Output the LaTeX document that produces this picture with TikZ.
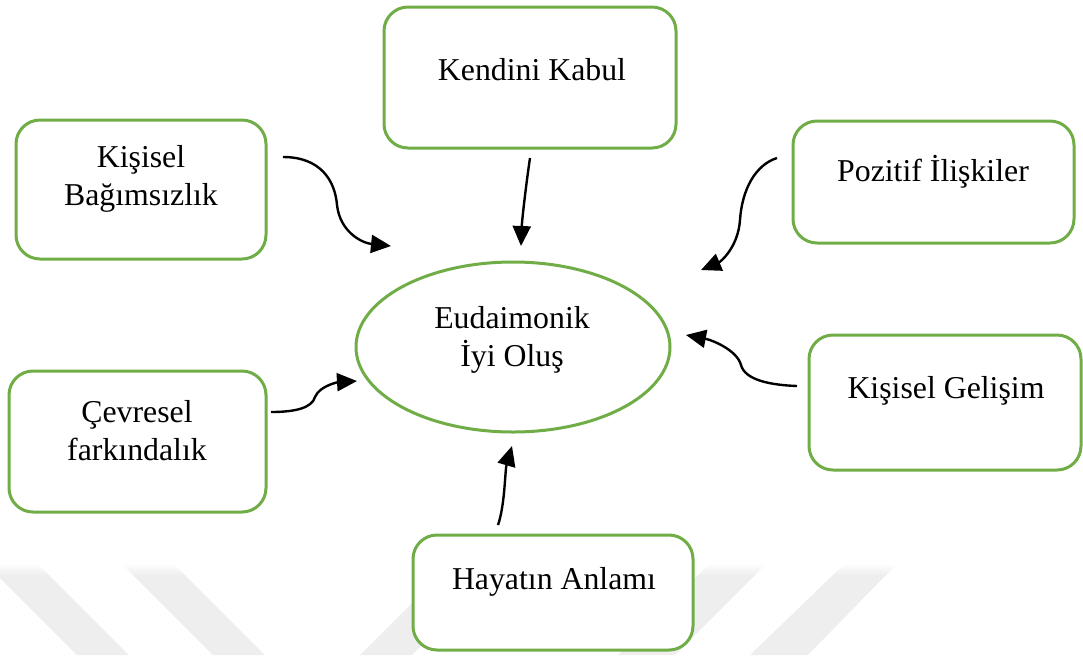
\documentclass[tikz,border=0pt]{standalone}
\usepackage{fontspec}
\setmainfont{Liberation Serif}
\usetikzlibrary{arrows.meta,shapes.geometric}
\definecolor{boxgreen}{HTML}{70AD47}
\definecolor{wm}{HTML}{EEEEEE}
\tikzset{
  box/.style={draw=boxgreen, line width=1.5pt, rounded corners=12pt, fill=white, inner sep=0pt},
  lbl/.style={font=\fontsize{15.9}{19}\selectfont, align=center, inner sep=0pt},
  conn/.style={line width=1.2pt, -{Triangle[length=10pt,width=9pt]}},
  wmark/.style={fill=wm, draw=none},
  wfade/.style={top color=white, bottom color=wm, draw=none}
}
\begin{document}
\begin{tikzpicture}[x=0.5pt,y=-0.5pt]
\useasboundingbox (0,0) rectangle (1083,655);
% watermark (solid lower parts)
\fill[wmark] (-3,575) -- (49,575) -- (129,655) -- (77,655) -- cycle;
\fill[wmark] (133,575) -- (185,575) -- (265,655) -- (213,655) -- cycle;
\fill[wmark] (440,575) -- (492,575) -- (412,655) -- (360,655) -- cycle;
\fill[wmark] (698,575) -- (755,575) -- (675,655) -- (618,655) -- cycle;
\fill[wmark] (833,575) -- (886,575) -- (808,655) -- (750,655) -- cycle;
% watermark (soft top edges)
\shade[wfade] (-15,563) -- (37,563) -- (49.5,575.5) -- (-2.5,575.5) -- cycle;
\shade[wfade] (121,563) -- (173,563) -- (185.5,575.5) -- (133.5,575.5) -- cycle;
\shade[wfade] (452,563) -- (504,563) -- (491.5,575.5) -- (439.5,575.5) -- cycle;
\shade[wfade] (710,563) -- (767,563) -- (754.5,575.5) -- (697.5,575.5) -- cycle;
\shade[wfade] (845,563) -- (898,563) -- (885.5,575.5) -- (832.5,575.5) -- cycle;
% boxes
\node[box, minimum width=146pt, minimum height=70.5pt] (kk) at (530,77.5) {};
\node[box, minimum width=125pt, minimum height=69.5pt] (kb) at (141,189.5) {};
\node[box, minimum width=140.5pt, minimum height=61pt] (pi) at (933.5,182) {};
\node[box, minimum width=128.5pt, minimum height=70.5pt] (cf) at (137.5,441.5) {};
\node[box, minimum width=136pt, minimum height=67.5pt] (kg) at (945,402.5) {};
\node[box, minimum width=140pt, minimum height=57.5pt] (ha) at (553,592.5) {};
\node[draw=boxgreen, line width=1.5pt, ellipse, fill=white, inner sep=0pt, minimum width=157pt, minimum height=85pt] (eu) at (513,347) {};
% texts
\node[lbl] (kkt) at (532,70) {Kendini Kabul};
\node[lbl] (kbt) at (141,179) {Kişisel\\Bağımsızlık};
\node[lbl] (pit) at (933,172) {Pozitif İlişkiler};
\node[lbl] (cft) at (137,431) {Çevresel\\farkındalık};
\node[lbl] (kgt) at (946,391) {Kişisel Gelişim};
\node[lbl] (hat) at (554,582) {Hayatın Anlamı};
\node[lbl] (eut) at (512,340) {Eudaimonik\\İyi Oluş};
% connector end points
\coordinate (a1) at (283,157);  \coordinate (b1) at (391,246);
\coordinate (a2) at (530,158);  \coordinate (b2) at (521,246);
\coordinate (a3) at (777,158);  \coordinate (b3) at (701,270);
\coordinate (a4) at (271,412);  \coordinate (b4) at (357,381);
\coordinate (a5) at (797,386);  \coordinate (b5) at (686,335);
\coordinate (a6) at (498,525);  \coordinate (b6) at (512,446);
% connectors
\draw[conn] (a1) .. controls (320,157) and (335,180) .. (337,205) .. controls (340,232) and (362,243) .. (b1);
\draw[conn] (a2) .. controls (526,185) and (522,220) .. (b2);
\draw[conn] (a3) .. controls (755,165) and (742,190) .. (740,220) .. controls (738,248) and (720,262) .. (b3);
\draw[conn] (a4) .. controls (295,412) and (312,408) .. (315,397) .. controls (320,385) and (340,382) .. (b4);
\draw[conn] (a5) .. controls (770,385) and (745,380) .. (741,365) .. controls (737,350) and (712,340) .. (b5);
\draw[conn] (a6) .. controls (505,505) and (505,470) .. (b6);
\end{tikzpicture}
\end{document}
